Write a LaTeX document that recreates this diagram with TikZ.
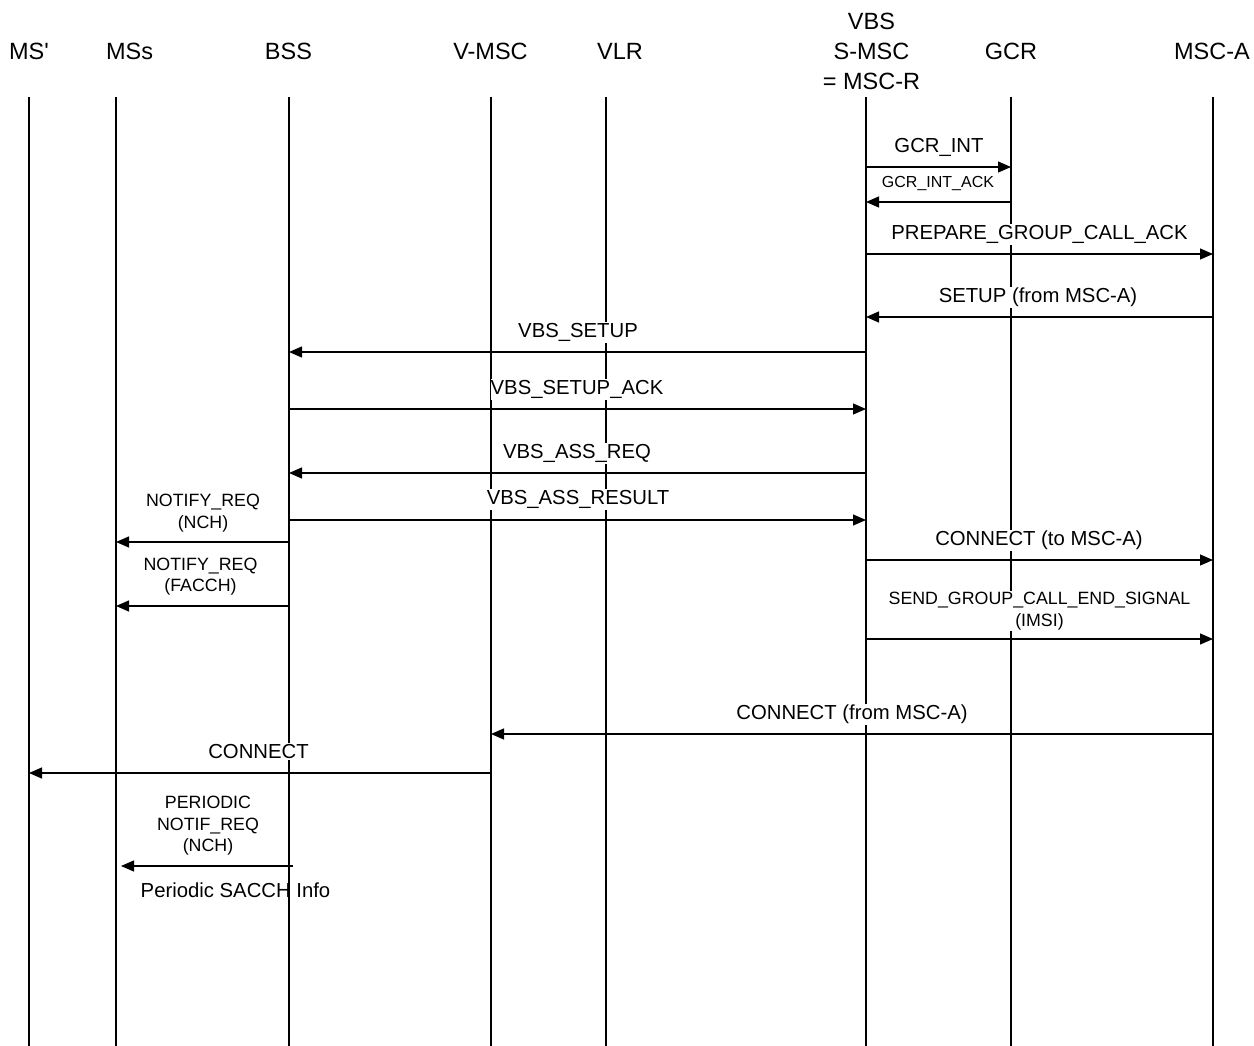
\documentclass[tikz,border=0pt]{standalone}
\usepackage{fontspec}
\setmainfont{Liberation Sans}[Ligatures=TeXOff]
\usetikzlibrary{arrows.meta}
\tikzset{
  life/.style={line width=1.4pt},
  msg/.style={line width=1.2pt, -{Triangle[length=13pt,width=11pt]}},
  hdr/.style={font=\fontsize{23.5}{30}\selectfont, anchor=base, inner sep=0pt, align=center},
  lbl/.style={font=\fontsize{20.3}{24}\selectfont, anchor=base, fill=white, inner xsep=0pt, inner ysep=1pt},
  sml/.style={font=\fontsize{17.8}{21.5}\selectfont, anchor=base, fill=white, inner xsep=0pt, inner ysep=1pt, align=center},
  tiny/.style={font=\fontsize{16}{20}\selectfont, anchor=base, fill=white, inner xsep=0pt, inner ysep=1pt},
}
\begin{document}
\begin{tikzpicture}[x=1pt,y=-1pt]
\useasboundingbox[fill=white] (0,0) rectangle (1254,1046);
% headers
\node[hdr] (h-msp) at (29,60) {MS'};
\node[hdr] (h-mss) at (129.5,60) {MSs};
\node[hdr] (h-bss) at (288.5,60) {BSS};
\node[hdr] (h-vmsc) at (490.5,60) {V-MSC};
\node[hdr] (h-vlr) at (620,60) {VLR};
\node[hdr] (h-smsc) at (871.5,90) {VBS\\S-MSC\\= MSC-R};
\node[hdr] (h-gcr) at (1011,60) {GCR};
\node[hdr] (h-msca) at (1212,60) {MSC-A};
% lifelines
\foreach \n/\x in {msp/29, mss/116, bss/289, vmsc/491, vlr/606, smsc/866, gcr/1011, msca/1213}{
  \coordinate (\n) at (\x,97);
  \coordinate (\n-end) at (\x,1046);
  \draw[life] (\n) -- (\n-end);
}
% labels
\node[lbl] (t1) at (939,153) {GCR\_INT};
\node[tiny] (t2) at (938,188) {GCR\_INT\_ACK};
\node[lbl] (t3) at (1039.5,239.5) {PREPARE\_GROUP\_CALL\_ACK};
\node[lbl] (t4) at (1038,302.5) {SETUP (from MSC-A)};
\node[lbl] (t5) at (578,337.5) {VBS\_SETUP};
\node[lbl] (t6) at (577,394.5) {VBS\_SETUP\_ACK};
\node[lbl] (t7) at (577,458.5) {VBS\_ASS\_REQ};
\node[lbl] (t8) at (578,504.5) {VBS\_ASS\_RESULT};
\node[sml] (t9) at (203,528) {NOTIFY\_REQ\\(NCH)};
\node[lbl] (t10) at (1039,545.5) {CONNECT (to MSC-A)};
\node[sml] (t11) at (200.5,591.5) {NOTIFY\_REQ\\(FACCH)};
\node[sml] (t12) at (1039.5,626) {SEND\_GROUP\_CALL\_END\_SIGNAL\\(IMSI)};
\node[lbl] (t13) at (852,719.5) {CONNECT (from MSC-A)};
\node[lbl] (t14) at (258.5,758.5) {CONNECT};
\node[sml] (t15) at (208,851.5) {PERIODIC\\NOTIF\_REQ\\(NCH)};
\node[lbl, fill=none] (t16) at (235.5,897.5) {Periodic SACCH Info};
% messages
\draw[msg] (smsc |- 0,167) -- (gcr |- 0,167);
\draw[msg] (gcr |- 0,202) -- (smsc |- 0,202);
\draw[msg] (smsc |- 0,254) -- (msca |- 0,254);
\draw[msg] (msca |- 0,317) -- (smsc |- 0,317);
\draw[msg] (smsc |- 0,352) -- (bss |- 0,352);
\draw[msg] (bss |- 0,409) -- (smsc |- 0,409);
\draw[msg] (smsc |- 0,473) -- (bss |- 0,473);
\draw[msg] (bss |- 0,520) -- (smsc |- 0,520);
\draw[msg] (bss |- 0,542) -- (mss |- 0,542);
\draw[msg] (smsc |- 0,560) -- (msca |- 0,560);
\draw[msg] (bss |- 0,606) -- (mss |- 0,606);
\draw[msg] (smsc |- 0,639) -- (msca |- 0,639);
\draw[msg] (msca |- 0,734) -- (vmsc |- 0,734);
\draw[msg] (vmsc |- 0,773) -- (msp |- 0,773);
\coordinate (p-start) at (293,866);
\coordinate (p-end) at (121,866);
\draw[msg] (p-start) -- (p-end);
\end{tikzpicture}
\end{document}
